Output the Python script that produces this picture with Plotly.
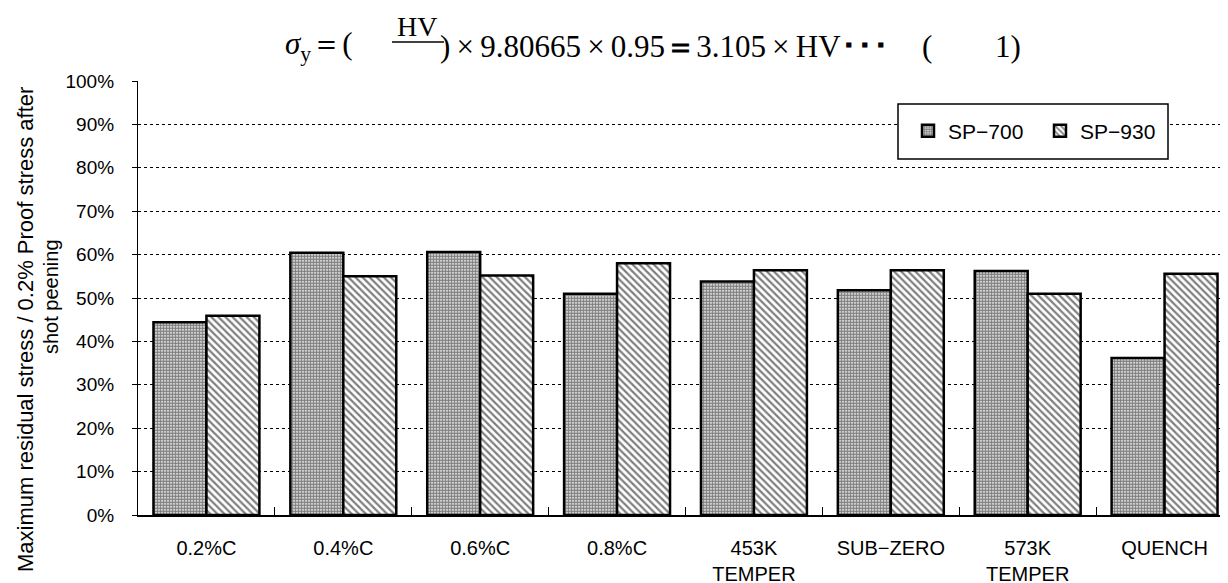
import plotly.graph_objects as go

categories = ["0.2%C", "0.4%C", "0.6%C", "0.8%C", "453K<br>TEMPER", "SUB−ZERO", "573K<br>TEMPER", "QUENCH"]
sp700 = [0.444, 0.604, 0.606, 0.510, 0.538, 0.518, 0.562, 0.362]
sp930 = [0.459, 0.550, 0.552, 0.580, 0.564, 0.564, 0.510, 0.556]
series_names = ["SP−700", "SP−930"]

W, H = 1228, 583
L, R, T, B = 130, 3, 73, 76
PW, PH = W - L - R, H - T - B

def px(x):
    return (x - L) / PW

def py(y):
    return (H - B - y) / PH

SANS = "Liberation Sans, Arial, sans-serif"
SERIF = "Liberation Serif, Times New Roman, serif"

fig = go.Figure()
fig.add_trace(go.Bar(
    x=categories, y=sp700, name=series_names[0],
    marker=dict(color="white", line=dict(color="black", width=2.5),
                pattern=dict(shape=".", size=3, solidity=0.72, fgcolor="black", bgcolor="white")),
))
fig.add_trace(go.Bar(
    x=categories, y=sp930, name=series_names[1],
    marker=dict(color="white", line=dict(color="black", width=2.5),
                pattern=dict(shape="\\", size=5, solidity=0.45, fgcolor="black", bgcolor="white")),
))

fig.update_layout(
    width=W, height=H,
    margin=dict(l=L, r=R, t=T, b=B, pad=0),
    paper_bgcolor="white", plot_bgcolor="white",
    barmode="group", bargap=0.226, bargroupgap=0,
    font=dict(family=SANS, size=19, color="black"),
    showlegend=True,
    legend=dict(
        orientation="h", x=px(900), y=py(123), xanchor="left", yanchor="middle",
        bgcolor="rgba(0,0,0,0)", borderwidth=0,
        font=dict(family=SANS, size=21), entrywidth=87, itemwidth=30,
    ),
    xaxis=dict(
        type="category", showgrid=False, zeroline=False,
        showline=True, linecolor="black", linewidth=1.5,
        ticks="inside", tickson="boundaries", ticklen=8, tickcolor="black", tickwidth=1,
        tickfont=dict(family=SANS, size=20), ticklabelstandoff=14,
    ),
    yaxis=dict(
        range=[0, 1], dtick=0.1, tickformat=".0%",
        showgrid=True, gridcolor="black", griddash="3px,3px", gridwidth=1,
        zeroline=False, showline=True, linecolor="black", linewidth=1.2, mirror=True,
        ticks="outside", ticklen=5, tickcolor="black",
        tickfont=dict(family=SANS, size=19), ticklabelstandoff=14,
    ),
)

annotations = [
    # y-axis title (two lines)
    dict(text="Maximum residual stress / 0.2% Proof stress after", x=px(17), y=py(322),
         textangle=-90, showarrow=False, xref="paper", yref="paper",
         xanchor="center", yanchor="middle", font=dict(family=SANS, size=22)),
    dict(text="shot peening", x=px(43), y=py(288),
         textangle=-90, showarrow=False, xref="paper", yref="paper",
         xanchor="center", yanchor="middle", font=dict(family=SANS, size=20)),
    # formula
    dict(text="<i>σ</i><sub>y</sub>＝(", x=px(275), y=py(38), xanchor="left", yanchor="middle",
         showarrow=False, xref="paper", yref="paper", font=dict(family=SERIF, size=31)),
    dict(text="HV", x=px(409), y=py(18), xanchor="center", yanchor="middle", borderpad=0,
         showarrow=False, xref="paper", yref="paper", font=dict(family=SERIF, size=28)),
    dict(text=")\u2009×\u20099.80665\u2009×\u20090.95<b>＝</b>3.105\u2009×\u2009HV<b>･･･</b>", x=px(430), y=py(38),
         xanchor="left", yanchor="middle",
         showarrow=False, xref="paper", yref="paper", font=dict(family=SERIF, size=31)),
    dict(text="(", x=px(912), y=py(38), xanchor="left", yanchor="middle",
         showarrow=False, xref="paper", yref="paper", font=dict(family=SERIF, size=31)),
    dict(text="1)", x=px(1015), y=py(38), xanchor="right", yanchor="middle",
         showarrow=False, xref="paper", yref="paper", font=dict(family=SERIF, size=31)),
]
fig.update_layout(annotations=annotations)
# fraction bar under HV
fig.add_shape(type="line", xref="paper", yref="paper", x0=px(384), x1=px(436), y0=py(34), y1=py(34),
              line=dict(color="black", width=1.5))
# legend frame
fig.add_shape(type="rect", xref="paper", yref="paper", x0=px(890), x1=px(1160), y0=py(96), y1=py(151),
              line=dict(color="black", width=1.5), fillcolor="white", layer="above")

fig.write_html("out.html")
